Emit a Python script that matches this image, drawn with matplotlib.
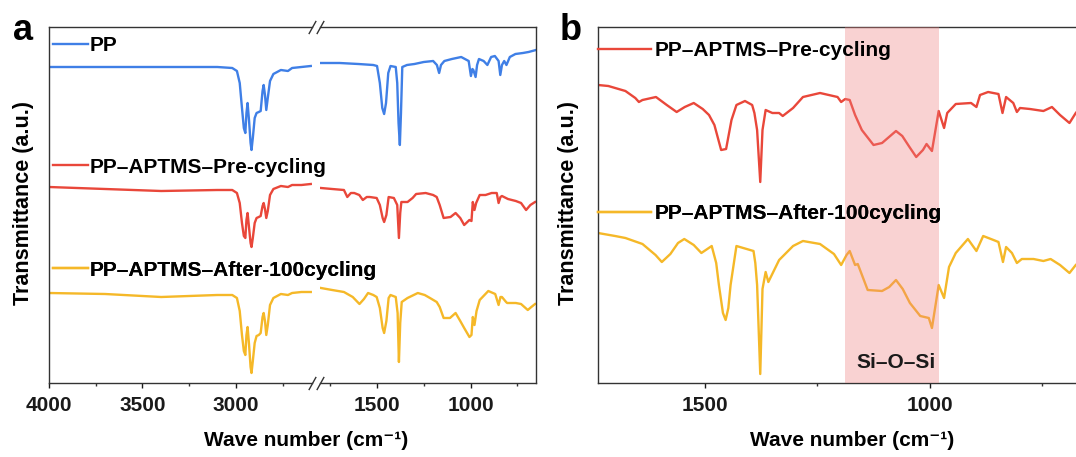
import matplotlib
matplotlib.use('Agg')
import matplotlib.pyplot as plt
from matplotlib.ticker import MultipleLocator

plt.rcParams['font.family'] = ['Liberation Sans', 'DejaVu Sans']
plt.rcParams['font.weight'] = 'bold'

# cores das curvas
c_pp = '#3F7FE6'
c_pre = '#E9473A'
c_after = '#F5B828'

labels = ['PP', 'PP–APTMS–Pre-cycling', 'PP–APTMS–After-100cycling']

# ---- painel a: regiao 4000-2600 cm-1 ----
wn_hi = [4000, 3700, 3400, 3100, 3020, 2995, 2980, 2968, 2958, 2950, 2944, 2938,
         2930, 2922, 2917, 2910, 2900, 2890, 2878, 2868, 2858, 2852, 2845, 2838,
         2830, 2818, 2800, 2760, 2722, 2700, 2650, 2600]
pp_hi = [316, 316, 316, 316, 315, 312, 300, 275, 255, 250, 270, 280,
         262, 240, 233, 245, 265, 270, 271, 272, 292, 298, 288, 273,
         285, 302, 309, 313, 312, 315, 316, 317]
pre_hi = [196, 194, 192, 193, 193, 190, 180, 160, 147, 145, 163, 170,
          155, 140, 136, 145, 160, 165, 166, 167, 177, 180, 174, 165,
          172, 188, 194, 197, 196, 198, 198, 199]
after_hi = [90, 89, 86, 88, 88, 85, 72, 48, 32, 28, 48, 56,
            38, 16, 10, 22, 40, 47, 48, 50, 66, 70, 62, 48,
            58, 78, 85, 89, 88, 90, 91, 91]

# ---- painel a: regiao 1800-650 cm-1 ----
pp_lo_wn = [1800, 1700, 1600, 1520, 1500, 1485, 1472, 1462, 1452, 1440, 1428, 1400,
            1392, 1385, 1378, 1372, 1365, 1340, 1300, 1250, 1200, 1180, 1168, 1158,
            1140, 1100, 1050, 1010, 998, 990, 985, 973, 965, 955, 930, 910,
            900, 890, 870, 850, 841, 832, 820, 808, 790, 760, 720, 690, 650]
pp_lo = [320, 320, 319, 318, 317, 300, 275, 269, 280, 310, 317, 316,
         300, 260, 238, 270, 316, 318, 319, 321, 322, 318, 310, 318,
         322, 324, 326, 322, 307, 314, 313, 306, 318, 324, 322, 318,
         322, 326, 327, 322, 308, 318, 322, 318, 326, 329, 330, 331, 333]

pre_lo_wn = [1800, 1740, 1677, 1659, 1640, 1622, 1595, 1576, 1555, 1539, 1502, 1485,
             1470, 1462, 1450, 1438, 1410, 1392, 1383, 1376, 1370, 1337, 1310, 1291,
             1240, 1200, 1181, 1165, 1144, 1107, 1080, 1055, 1034, 1006, 995, 988,
             979, 970, 951, 920, 887, 860, 850, 840, 832, 800, 758, 730, 703, 680, 655]
pre_lo = [195, 194, 193, 186, 190, 190, 188, 183, 186, 186, 185, 178,
          165, 161, 168, 186, 185, 178, 145, 170, 181, 181, 185, 189,
          190, 188, 186, 178, 165, 166, 170, 165, 158, 163, 162, 181,
          173, 180, 188, 188, 190, 190, 180, 186, 187, 184, 182, 180, 173, 178, 181]

after_lo_wn = [1800, 1740, 1677, 1630, 1594, 1570, 1548, 1520, 1502, 1485, 1470, 1462,
               1450, 1438, 1428, 1400, 1390, 1383, 1376, 1368, 1337, 1282, 1245, 1217,
               1181, 1165, 1144, 1110, 1080, 1055, 1034, 1006, 995, 988, 979, 968,
               951, 905, 868, 850, 840, 832, 810, 804, 758, 730, 694, 675, 655]
after_lo = [95, 93, 91, 86, 79, 84, 90, 88, 86, 75, 55, 50,
            62, 85, 88, 86, 70, 21, 60, 81, 85, 90, 88, 85,
            81, 76, 65, 65, 70, 62, 55, 46, 48, 66, 58, 72,
            83, 92, 89, 78, 86, 86, 81, 80, 80, 79, 73, 76, 79]

# ---- painel b: 1738-650 cm-1 ----
pre_b_wn = [1738, 1715, 1677, 1655, 1647, 1639, 1609, 1585, 1563, 1545, 1525, 1505,
            1491, 1479, 1464, 1453, 1441, 1430, 1411, 1395, 1390, 1384, 1377, 1372,
            1365, 1350, 1335, 1327, 1304, 1282, 1244, 1205, 1197, 1188, 1178, 1166,
            1151, 1125, 1106, 1075, 1061, 1045, 1030, 1015, 1007, 995, 980, 968,
            961, 942, 908, 896, 888, 870, 847, 838, 830, 814, 806, 799,
            777, 747, 728, 710, 689, 675, 660, 650]
pre_b = [298, 297, 292, 285, 281, 283, 286, 278, 271, 276, 280, 274,
         268, 258, 233, 234, 263, 278, 282, 278, 270, 253, 201, 253,
         273, 270, 270, 267, 275, 286, 290, 286, 281, 284, 283, 268,
         253, 238, 240, 252, 247, 236, 226, 233, 239, 232, 272, 255,
         270, 279, 280, 276, 288, 291, 289, 270, 286, 280, 271, 275,
         274, 272, 276, 268, 260, 270, 278, 282]

after_b_wn = [1738, 1700, 1677, 1639, 1610, 1596, 1577, 1560, 1546, 1525, 1508, 1485,
              1475, 1469, 1460, 1454, 1448, 1443, 1430, 1392, 1388, 1384, 1377, 1372,
              1365, 1359, 1335, 1304, 1282, 1244, 1213, 1197, 1185, 1178, 1166, 1160,
              1138, 1106, 1090, 1075, 1060, 1044, 1021, 1002, 995, 988, 980, 968,
              957, 942, 915, 896, 881, 858, 847, 837, 830, 817, 806, 795,
              769, 747, 731, 710, 689, 675, 660, 650]
after_b = [150, 147, 145, 139, 128, 121, 129, 140, 144, 138, 130, 137,
           120, 98, 70, 63, 75, 98, 137, 132, 120, 98, 9, 94,
           111, 101, 123, 137, 142, 139, 129, 118, 128, 132, 118, 119,
           93, 92, 96, 103, 94, 80, 67, 65, 55, 75, 98, 85,
           116, 130, 144, 132, 147, 143, 141, 121, 136, 130, 120, 124,
           124, 122, 124, 118, 110, 118, 124, 126]

band = (1188, 979)

fig = plt.figure(figsize=(10.76, 4.57), dpi=100)
W, H = 1076, 457
bot = (H - 383) / H
hgt = 356 / H

ax_r = fig.add_axes([320 / W, bot, (536 - 320) / W, hgt])
ax_l = fig.add_axes([49 / W, bot, (312 - 49) / W, hgt])
ax_b = fig.add_axes([598 / W, bot, (1087 - 598) / W, hgt])
ax_l.set_zorder(3)
for ax in (ax_l, ax_r, ax_b):
    ax.patch.set_visible(False)

lw = 1.7
ax_l.plot(wn_hi, pp_hi, color=c_pp, lw=lw)
ax_l.plot(wn_hi, pre_hi, color=c_pre, lw=lw)
ax_l.plot(wn_hi, after_hi, color=c_after, lw=lw)
ax_r.plot(pp_lo_wn, pp_lo, color=c_pp, lw=lw)
ax_r.plot(pre_lo_wn, pre_lo, color=c_pre, lw=lw)
ax_r.plot(after_lo_wn, after_lo, color=c_after, lw=lw)
ax_b.plot(pre_b_wn, pre_b, color=c_pre, lw=lw)
ax_b.plot(after_b_wn, after_b, color=c_after, lw=lw)
ax_b.axvspan(band[0], band[1], color='#F08080', alpha=0.35, lw=0, zorder=3)
ax_b.text(sum(band) / 2 - 8, 21, 'Si–O–Si', ha='center', va='center',
          fontsize=15, fontweight='bold', color='#1a1a1a', zorder=4)

ax_l.set_xlim(4000, 2593.5)
ax_r.set_xlim(1805, 650)
ax_b.set_xlim(1738, 650)

for ax in (ax_l, ax_r, ax_b):
    ax.set_ylim(0, 356)
    ax.set_yticks([])
    ax.xaxis.set_major_locator(MultipleLocator(500))
    ax.xaxis.set_minor_locator(MultipleLocator(250))
    ax.tick_params(axis='x', which='major', length=3.5, width=1, pad=6,
                   labelsize=15, colors='#1a1a1a')
    ax.tick_params(axis='x', which='minor', length=2.2, width=1, colors='#333333')
    for s in ax.spines.values():
        s.set_linewidth(1.0)
        s.set_color('#333333')
    for t in ax.get_xticklabels():
        t.set_fontweight('bold')

ax_l.spines['right'].set_visible(False)
ax_r.spines['left'].set_visible(False)

# marcas de quebra //
kw = dict(marker=[(-1, -1.8), (1, 1.8)], markersize=9.5, linestyle='none',
          color='#333333', mec='#333333', mew=1, clip_on=False)
ax_l.plot([1, 1], [0, 1], transform=ax_l.transAxes, **kw)
ax_r.plot([0, 0], [0, 1], transform=ax_r.transAxes, **kw)

# legendas
def leg(ax, line_color, text, x, y, hl, pad):
    h, = ax.plot([], [], color=line_color, lw=lw)
    lg = ax.legend([h], [text], loc='center left', bbox_to_anchor=(x, y),
                   frameon=False, fontsize=15, handlelength=hl,
                   handletextpad=pad, borderpad=0, borderaxespad=0)
    for t in lg.get_texts():
        t.set_fontweight('bold')
    ax.add_artist(lg)

x0 = 4 / 263
leg(ax_l, c_pp, labels[0], x0, 0.948, 1.68, 0.1)
leg(ax_l, c_pre, labels[1], x0, 0.606, 1.68, 0.1)
leg(ax_l, c_after, labels[2], x0, 0.317, 1.68, 0.1)
leg(ax_b, c_pre, labels[1], 0, 0.934, 2.55, 0.17)
leg(ax_b, c_after, labels[2], 0, 0.475, 2.55, 0.17)

# rotulos
ylab = 'Transmittance (a.u.)'
xlab = 'Wave number (cm⁻¹)'
fig.text(23.5 / W, 1 - 203 / H, ylab, rotation=90, ha='center', va='center',
         fontsize=15.5, fontweight='bold')
fig.text(568.5 / W, 1 - 203 / H, ylab, rotation=90, ha='center', va='center',
         fontsize=15.5, fontweight='bold')
fig.text(306 / W, 1 - 441 / H, xlab, ha='center', va='center',
         fontsize=15, fontweight='bold')
fig.text(852 / W, 1 - 441 / H, xlab, ha='center', va='center',
         fontsize=15, fontweight='bold')
fig.text(13 / W, 1 - 39.5 / H, 'a', ha='left', va='baseline',
         fontsize=26, fontweight='bold')
fig.text(560 / W, 1 - 39.5 / H, 'b', ha='left', va='baseline',
         fontsize=26, fontweight='bold')

plt.savefig('out.png', dpi=100)
